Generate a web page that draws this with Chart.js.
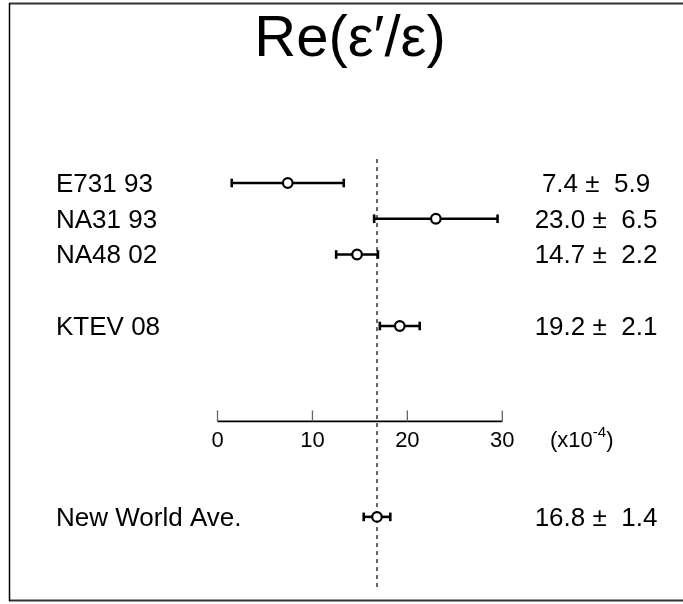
<!DOCTYPE html>
<html>
<head>
<meta charset="utf-8">
<script src="https://cdn.jsdelivr.net/npm/chart.js@4.4.1/dist/chart.umd.min.js"></script>
<style>
  html, body { margin: 0; padding: 0; background: #fff; }
  #wrap { width: 683px; height: 604px; }
</style>
</head>
<body>
<div id="wrap"><canvas id="chart" width="683" height="604"></canvas></div>
<script>
// data (units of 1e-4)
const experiments = ["E731 93", "NA31 93", "NA48 02", "KTEV 08"]
const values      = [7.4, 23.0, 14.7, 19.2]
const errors      = [5.9, 6.5, 2.2, 2.1]
const avgLabel    = "New World Ave."
const avgValue    = 16.8
const avgError    = 1.4
const xTicks      = [0, 10, 20, 30]

// layout: row slots on the (hidden) vertical scale
const rowSlots = [1, 2, 3, 5]
const avgSlot  = 10.34
const axisSlot = 7.67
const FONT = '"Liberation Sans", Arial, Helvetica, sans-serif'

const fmt = (v, e) => `${v.toFixed(1)} \u00b1  ${e.toFixed(1)}`

const allVals  = [...values, avgValue]
const allErrs  = [...errors, avgError]
const allSlots = [...rowSlots, avgSlot]

const barSets = allVals.map((v, i) => ({
  data: [{ x: v - allErrs[i], y: allSlots[i] }, { x: v + allErrs[i], y: allSlots[i] }],
  showLine: true,
  borderColor: "#000",
  borderWidth: 2.6,
  pointStyle: "line",
  rotation: 90,
  pointRadius: 4.3,
  pointBorderWidth: 2.6,
  pointBorderColor: "#000",
  clip: false,
  order: 2
}))

const centreSet = {
  data: allVals.map((v, i) => ({ x: v, y: allSlots[i] })),
  showLine: false,
  pointStyle: "circle",
  pointRadius: 4.8,
  pointBorderWidth: 2.2,
  pointBorderColor: "#000",
  pointBackgroundColor: "#fff",
  clip: false,
  order: 0
}

const refLine = {
  data: [{ x: avgValue, y: 0.33 }, { x: avgValue, y: 12.3 }],
  showLine: true,
  borderColor: "#000",
  borderWidth: 1.2,
  borderDash: [4, 4],
  pointRadius: 0,
  clip: false,
  order: 3
}

const axisLine = {
  data: [{ x: xTicks[0], y: axisSlot }, { x: xTicks[xTicks.length - 1], y: axisSlot }],
  showLine: true,
  borderColor: "#000",
  borderWidth: 1.8,
  pointRadius: 0,
  clip: false,
  order: 4
}

// frame, title, labels, values, axis ticks
const decor = {
  id: "decor",
  beforeDraw(chart) {
    const c = chart.ctx
    c.save()
    c.fillStyle = "#fff"
    c.fillRect(0, 0, chart.width, chart.height)
    c.strokeStyle = "#333"
    c.lineWidth = 2
    c.beginPath(); c.moveTo(9, 3.5); c.lineTo(chart.width, 3.5); c.stroke()
    c.beginPath(); c.moveTo(9, 600.5); c.lineTo(chart.width, 600.5); c.stroke()
    c.strokeStyle = "#000"
    c.lineWidth = 1.5
    c.beginPath(); c.moveTo(9.5, 3); c.lineTo(9.5, 601); c.stroke()
    c.restore()
  },
  afterDatasetsDraw(chart) {
    const { ctx: c, scales: { x, y } } = chart
    c.save()
    c.fillStyle = "#000"
    c.textBaseline = "alphabetic"

    c.font = `58px ${FONT}`
    c.textAlign = "center"
    c.fillText("Re(\u03b5\u2032/\u03b5)", 350, 56)

    c.font = `26px ${FONT}`
    const rowLabels = [...experiments, avgLabel]
    rowLabels.forEach((lab, i) => {
      const py = y.getPixelForValue(allSlots[i]) + 9
      c.textAlign = "left"
      c.fillText(lab, 56, py)
      c.textAlign = "center"
      c.fillText(fmt(allVals[i], allErrs[i]), 596, py)
    })

    // tick marks and tick labels
    const ay = y.getPixelForValue(axisSlot)
    c.strokeStyle = "#666"
    c.lineWidth = 1.3
    c.font = `22px ${FONT}`
    c.textAlign = "center"
    xTicks.forEach(t => {
      const px = x.getPixelForValue(t)
      c.beginPath(); c.moveTo(px, ay); c.lineTo(px, ay - 11); c.stroke()
      c.fillText(String(t), px, ay + 25.5)
    })

    // unit label (x10^-4)
    let ux = 550
    const ub = ay + 25.5
    c.textAlign = "left"
    c.fillText("(x10", ux, ub); ux += c.measureText("(x10").width
    c.font = `15px ${FONT}`
    c.fillText("-4", ux, ub - 10); ux += c.measureText("-4").width
    c.font = `22px ${FONT}`
    c.fillText(")", ux, ub)
    c.restore()
  }
}

new Chart(document.getElementById("chart"), {
  type: "scatter",
  data: { datasets: [refLine, axisLine, ...barSets, centreSet] },
  options: {
    responsive: false,
    animation: false,
    devicePixelRatio: 1,
    layout: { padding: { left: 217.5, right: 180.7, top: 147.25, bottom: 9.9 } },
    plugins: { legend: { display: false }, tooltip: { enabled: false } },
    scales: {
      x: { type: "linear", min: 0, max: 30, display: false },
      y: { type: "linear", min: 0, max: 12.5, reverse: true, display: false }
    }
  },
  plugins: [decor]
})
</script>
</body>
</html>
